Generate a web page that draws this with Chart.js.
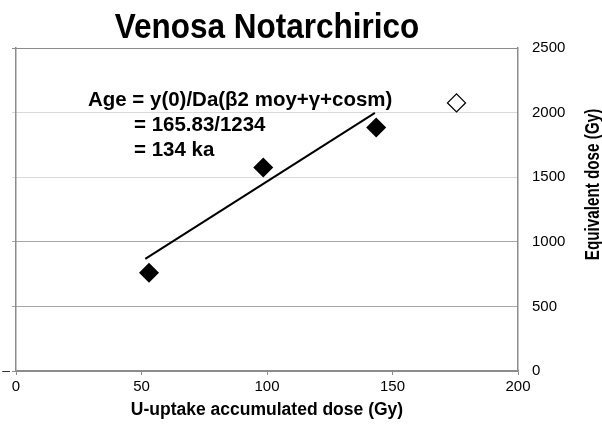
<!DOCTYPE html>
<html><head><meta charset="utf-8">
<script src="https://cdn.jsdelivr.net/npm/chart.js@4"></script>
<style>html,body{margin:0;padding:0;background:#fff;overflow:hidden}#wrap{width:602px;height:433px}</style>
</head><body><div id="wrap"><canvas id="c" width="602" height="433"></canvas></div>
<script>
const titleText = 'Venosa Notarchirico';
const xTitle = 'U-uptake accumulated dose (Gy)';
const yTitle = 'Equivalent dose (Gy)';
const annotationLines = ['Age = y(0)/Da(β2 moy+γ+cosm)', '= 165.83/1234', '= 134 ka'];
const xTicks = [0, 50, 100, 150, 200];
const yTicks = [0, 500, 1000, 1500, 2000, 2500];
const sampleX = [53, 98.5, 143.5];
const sampleY = [760, 1575, 1885];
const excludedX = [175.5];
const excludedY = [2075];
const fitX = [51.5, 143];
const fitY = [868, 1998];

const FONT = "'Liberation Sans', Arial, sans-serif";
const toPts = (xs, ys) => xs.map((x, i) => ({x: x, y: ys[i]}));
const gridColor = v => (v === 1500 || v === 2000) ? '#d9d9d9' : (v === 0 || v === 2500 ? '#8c8c8c' : '#a6a6a6');

function scaledText(ctx, text, x, y, sx, sy) {
  ctx.save();
  ctx.translate(x, y);
  ctx.scale(sx, sy);
  ctx.fillText(text, 0, 0);
  ctx.restore();
}

const textPlugin = {
  id: 'texts',
  afterDraw(chart) {
    const ctx = chart.ctx, ca = chart.chartArea;
    ctx.save();
    ctx.fillStyle = '#000';
    ctx.textBaseline = 'middle';
    // title
    ctx.font = 'bold 35px ' + FONT;
    ctx.textAlign = 'center';
    scaledText(ctx, titleText, (ca.left + ca.right) / 2, 28, 0.9, 1);
    // annotation
    ctx.font = 'bold 19.5px ' + FONT;
    ctx.textAlign = 'left';
    scaledText(ctx, annotationLines[0], ca.left + 72, 101, 1.05, 1);
    scaledText(ctx, annotationLines[1], ca.left + 118, 126, 1.05, 1);
    scaledText(ctx, annotationLines[2], ca.left + 118, 151, 1.05, 1);
    // right axis title (partly cut by the canvas edge, as in the source)
    ctx.translate(599, (ca.top + ca.bottom) / 2 - 25);
    ctx.rotate(-Math.PI / 2);
    ctx.scale(0.87, 1.15);
    ctx.font = 'bold 17.5px ' + FONT;
    ctx.textAlign = 'center';
    ctx.textBaseline = 'alphabetic';
    ctx.fillText(yTitle, 0, 0);
    ctx.restore();
  }
};

new Chart(document.getElementById('c'), {
  type: 'scatter',
  data: {
    datasets: [
      {data: toPts(fitX, fitY), showLine: true, borderColor: '#000', borderWidth: 2, pointRadius: 0, order: 3},
      {data: toPts(sampleX, sampleY), pointStyle: 'rectRot', pointRadius: 10, backgroundColor: '#000', borderColor: '#000', borderWidth: 0, order: 1},
      {data: toPts(excludedX, excludedY), pointStyle: 'rectRot', pointRadius: 9, backgroundColor: '#fff', borderColor: '#000', borderWidth: 1.3, order: 2}
    ]
  },
  options: {
    responsive: false, animation: false, devicePixelRatio: 1,
    layout: {padding: {top: 48, left: 0, right: 0, bottom: 0}},
    plugins: {legend: {display: false}, tooltip: {enabled: false}, title: {display: false}},
    scales: {
      x: {
        type: 'linear', position: 'bottom', min: 0, max: 200,
        afterBuildTicks: s => { s.ticks = xTicks.map(v => ({value: v})); },
        afterFit: s => { s.height = 62; },
        grid: {drawOnChartArea: false, drawTicks: true, tickLength: 4, color: '#8c8c8c'},
        border: {color: '#8c8c8c', width: 1.5},
        ticks: {color: '#000', font: {family: FONT, size: 15}, padding: 3, maxRotation: 0, callback: v => String(v)},
        title: {display: true, text: xTitle, color: '#000', font: {family: FONT, size: 17.5, weight: 'bold'}, padding: {top: 4, bottom: 12}}
      },
      y: {
        type: 'linear', position: 'right', min: 0, max: 2500,
        afterBuildTicks: s => { s.ticks = yTicks.map(v => ({value: v})); },
        afterFit: s => { s.width = 84; },
        grid: {drawTicks: false, color: c => gridColor(c.tick ? c.tick.value : 0), lineWidth: 1},
        border: {color: '#8c8c8c', width: 1.5},
        ticks: {color: '#000', font: {family: FONT, size: 15}, padding: 14, callback: v => String(v)}
      },
      yL: {
        type: 'linear', position: 'left', min: 0, max: 2500,
        afterBuildTicks: s => { s.ticks = yTicks.map(v => ({value: v})); },
        afterFit: s => { s.width = 16; },
        grid: {drawOnChartArea: false, drawTicks: true, tickLength: 4, color: c => gridColor(c.tick ? c.tick.value : 0)},
        border: {color: '#8c8c8c', width: 1.5},
        ticks: {display: true, color: '#333', font: {family: FONT, size: 14}, padding: 2, callback: v => (v === 0 ? '–' : '')}
      }
    }
  },
  plugins: [textPlugin]
});
</script></body></html>
